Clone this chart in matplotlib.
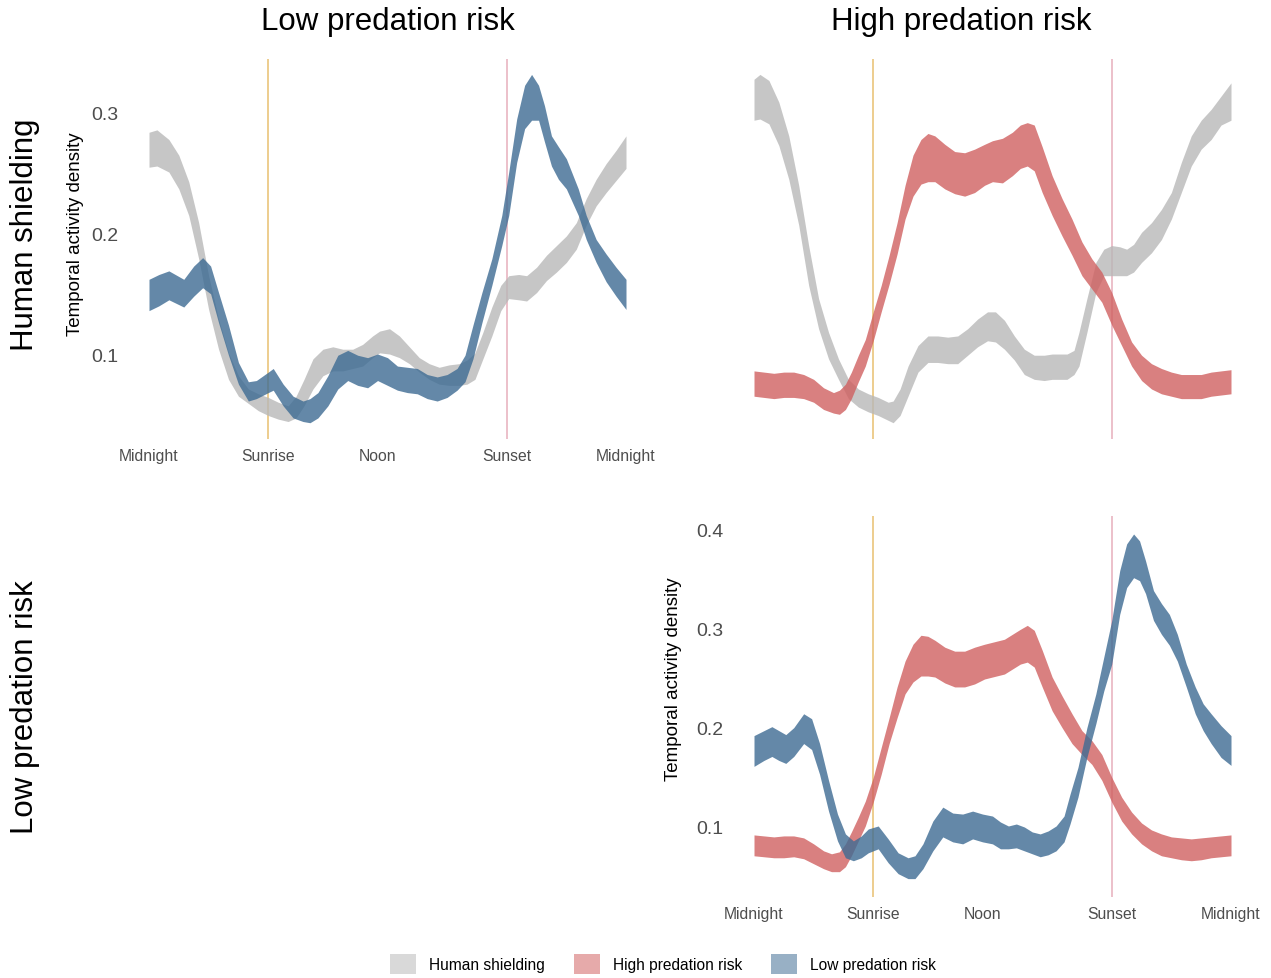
import matplotlib
matplotlib.use("Agg")
import matplotlib.pyplot as plt
from matplotlib.patches import Patch

plt.rcParams['font.family'] = ['Liberation Sans', 'DejaVu Sans']

# hour of day for each reading, upper / lower edge of each density band
tl_grey_h = [0, 0.4, 1.0, 1.5, 2.0, 2.5, 3.0, 3.5, 4.0, 4.5, 5.0, 5.5, 6.0, 6.5, 7.0, 7.4, 7.8, 8.25, 8.75, 9.25,
             9.75, 10.25, 10.75, 11.25, 11.6, 12.1, 12.6, 13.1, 13.6, 14.1, 14.6, 15.1, 15.6, 16.0, 16.4, 16.8,
             17.25, 17.7, 18.1, 18.6, 19.0, 19.5, 20.0, 20.5, 21.0, 21.5, 22.0, 22.5, 23.0, 23.5, 24]
tl_grey_hi = [0.284, 0.286, 0.278, 0.265, 0.243, 0.209, 0.165, 0.129, 0.101, 0.082, 0.071, 0.067, 0.064, 0.060,
              0.057, 0.065, 0.079, 0.096, 0.104, 0.106, 0.104, 0.104, 0.108, 0.115, 0.119, 0.121, 0.115, 0.106,
              0.097, 0.092, 0.089, 0.091, 0.092, 0.095, 0.101, 0.118, 0.139, 0.157, 0.165, 0.166, 0.165, 0.172,
              0.182, 0.190, 0.198, 0.209, 0.229, 0.245, 0.258, 0.269, 0.281]
tl_grey_lo = [0.255, 0.256, 0.251, 0.237, 0.215, 0.179, 0.137, 0.104, 0.079, 0.065, 0.059, 0.053, 0.049, 0.046,
              0.044, 0.047, 0.057, 0.071, 0.082, 0.086, 0.086, 0.088, 0.090, 0.097, 0.101, 0.100, 0.097, 0.092,
              0.085, 0.079, 0.075, 0.074, 0.074, 0.075, 0.079, 0.096, 0.115, 0.136, 0.146, 0.145, 0.144, 0.151,
              0.161, 0.168, 0.176, 0.187, 0.207, 0.223, 0.234, 0.244, 0.254]

tl_blue_h = [0, 0.5, 1.0, 1.75, 2.25, 2.7, 3.1, 3.5, 4.0, 4.5, 5.0, 5.4, 6.0, 6.25, 6.75, 7.25, 7.75, 8.1, 8.5, 9.0,
             9.5, 10.0, 10.5, 11.0, 11.5, 12.0, 12.5, 13.0, 13.5, 14.0, 14.5, 15.0, 15.5, 15.9, 16.3, 16.75,
             17.25, 17.75, 18.1, 18.5, 18.9, 19.25, 19.6, 19.9, 20.25, 20.6, 21.0, 21.6, 22.0, 22.5, 23.0, 23.5, 24]
tl_blue_hi = [0.162, 0.166, 0.169, 0.162, 0.173, 0.180, 0.173, 0.151, 0.124, 0.093, 0.077, 0.078, 0.085, 0.088,
              0.075, 0.065, 0.061, 0.063, 0.068, 0.082, 0.099, 0.103, 0.099, 0.097, 0.100, 0.097, 0.090, 0.089,
              0.088, 0.083, 0.081, 0.083, 0.088, 0.099, 0.124, 0.151, 0.179, 0.215, 0.251, 0.295, 0.323, 0.332,
              0.323, 0.306, 0.281, 0.272, 0.262, 0.237, 0.215, 0.195, 0.183, 0.172, 0.162]
tl_blue_lo = [0.136, 0.140, 0.145, 0.139, 0.148, 0.155, 0.150, 0.126, 0.099, 0.075, 0.061, 0.063, 0.068, 0.070,
              0.057, 0.047, 0.044, 0.043, 0.047, 0.057, 0.071, 0.078, 0.074, 0.072, 0.078, 0.074, 0.070, 0.068,
              0.067, 0.063, 0.061, 0.064, 0.070, 0.077, 0.096, 0.126, 0.157, 0.190, 0.215, 0.259, 0.287, 0.294,
              0.294, 0.276, 0.256, 0.245, 0.237, 0.215, 0.195, 0.176, 0.160, 0.148, 0.137]

tr_grey_h = [0, 0.3, 0.75, 1.25, 1.75, 2.25, 2.75, 3.25, 3.75, 4.25, 4.75, 5.25, 5.75, 6.25, 6.75, 7.0, 7.35, 7.75,
             8.25, 8.75, 9.25, 9.75, 10.25, 10.75, 11.25, 11.75, 12.15, 12.6, 13.1, 13.6, 14.1, 14.6, 15.0, 15.4,
             15.75, 16.1, 16.35, 16.75, 17.2, 17.6, 18.0, 18.4, 18.75, 19.1, 19.5, 20.0, 20.5, 21.0, 21.5, 22.0,
             22.5, 23.0, 23.5, 24]
tr_grey_hi = [0.328, 0.332, 0.327, 0.309, 0.281, 0.240, 0.190, 0.146, 0.118, 0.096, 0.079, 0.071, 0.067, 0.064,
              0.060, 0.061, 0.071, 0.090, 0.107, 0.115, 0.115, 0.114, 0.115, 0.121, 0.129, 0.135, 0.135, 0.128,
              0.115, 0.104, 0.099, 0.099, 0.100, 0.100, 0.100, 0.103, 0.118, 0.146, 0.176, 0.187, 0.190, 0.189,
              0.187, 0.191, 0.201, 0.209, 0.220, 0.234, 0.259, 0.281, 0.294, 0.303, 0.314, 0.325]
tr_grey_lo = [0.294, 0.295, 0.291, 0.273, 0.245, 0.207, 0.157, 0.121, 0.096, 0.079, 0.063, 0.056, 0.052, 0.049,
              0.045, 0.043, 0.049, 0.065, 0.085, 0.093, 0.093, 0.092, 0.092, 0.099, 0.106, 0.111, 0.110, 0.104,
              0.095, 0.083, 0.079, 0.078, 0.079, 0.079, 0.079, 0.083, 0.090, 0.118, 0.151, 0.165, 0.165, 0.165,
              0.165, 0.168, 0.176, 0.184, 0.195, 0.212, 0.234, 0.256, 0.270, 0.278, 0.290, 0.294]

tr_red_h = [0, 0.5, 1.0, 1.5, 2.0, 2.5, 3.0, 3.5, 4.0, 4.3, 4.6, 4.9, 5.25, 5.6, 6.0, 6.4, 6.8, 7.2, 7.6, 8.0, 8.4,
            8.75, 9.1, 9.6, 10.1, 10.6, 11.1, 11.6, 12.0, 12.5, 13.0, 13.4, 13.75, 14.1, 14.5, 15.0, 15.5, 16.0,
            16.5, 17.0, 17.5, 18.0, 18.5, 19.0, 19.5, 20.0, 20.5, 21.0, 21.5, 22.0, 22.5, 23.0, 23.5, 24]
tr_red_hi = [0.086, 0.085, 0.084, 0.085, 0.085, 0.083, 0.079, 0.072, 0.068, 0.070, 0.075, 0.085, 0.099, 0.112,
             0.135, 0.157, 0.182, 0.209, 0.240, 0.265, 0.278, 0.283, 0.281, 0.274, 0.268, 0.267, 0.270, 0.274,
             0.277, 0.279, 0.284, 0.290, 0.292, 0.290, 0.272, 0.248, 0.229, 0.212, 0.193, 0.179, 0.168, 0.151,
             0.129, 0.110, 0.099, 0.092, 0.088, 0.085, 0.083, 0.083, 0.083, 0.085, 0.086, 0.087]
tr_red_lo = [0.065, 0.064, 0.063, 0.064, 0.064, 0.063, 0.060, 0.054, 0.051, 0.050, 0.054, 0.063, 0.077, 0.090,
             0.111, 0.135, 0.158, 0.183, 0.212, 0.231, 0.241, 0.243, 0.243, 0.237, 0.233, 0.231, 0.234, 0.240,
             0.243, 0.242, 0.248, 0.254, 0.256, 0.252, 0.234, 0.215, 0.198, 0.182, 0.165, 0.154, 0.143, 0.124,
             0.107, 0.090, 0.078, 0.071, 0.067, 0.065, 0.063, 0.063, 0.063, 0.065, 0.066, 0.067]

br_blue_h = [0, 0.5, 0.9, 1.25, 1.6, 2.0, 2.5, 2.9, 3.3, 3.75, 4.2, 4.6, 5.0, 5.4, 5.75, 6.25, 6.75, 7.25, 7.75,
             8.1, 8.5, 9.0, 9.5, 10.0, 10.5, 11.0, 11.5, 12.0, 12.4, 12.8, 13.2, 13.6, 14.0, 14.4, 14.8, 15.2,
             15.6, 15.9, 16.3, 16.75, 17.2, 17.6, 18.0, 18.4, 18.75, 19.1, 19.4, 19.7, 20.1, 20.5, 20.9, 21.3,
             21.75, 22.2, 22.6, 23.0, 23.5, 24]
br_blue_hi = [0.192, 0.197, 0.201, 0.197, 0.193, 0.200, 0.214, 0.209, 0.184, 0.147, 0.113, 0.093, 0.086, 0.091,
              0.098, 0.101, 0.088, 0.074, 0.069, 0.071, 0.083, 0.106, 0.120, 0.114, 0.113, 0.116, 0.113, 0.111,
              0.105, 0.101, 0.103, 0.100, 0.095, 0.093, 0.096, 0.101, 0.111, 0.133, 0.160, 0.200, 0.234, 0.271,
              0.308, 0.358, 0.385, 0.395, 0.388, 0.368, 0.338, 0.325, 0.314, 0.294, 0.264, 0.241, 0.224, 0.214,
              0.202, 0.192]
br_blue_lo = [0.161, 0.167, 0.171, 0.167, 0.164, 0.171, 0.184, 0.178, 0.153, 0.116, 0.086, 0.069, 0.066, 0.069,
              0.074, 0.078, 0.064, 0.053, 0.048, 0.048, 0.058, 0.076, 0.090, 0.085, 0.083, 0.088, 0.085, 0.083,
              0.078, 0.078, 0.079, 0.076, 0.073, 0.070, 0.072, 0.076, 0.085, 0.103, 0.130, 0.170, 0.204, 0.237,
              0.264, 0.314, 0.341, 0.351, 0.348, 0.335, 0.308, 0.294, 0.283, 0.267, 0.241, 0.214, 0.197, 0.184,
              0.170, 0.162]

br_red_h = [0, 0.5, 1.0, 1.5, 2.0, 2.5, 3.0, 3.5, 3.9, 4.3, 4.6, 4.9, 5.25, 5.6, 6.0, 6.4, 6.8, 7.2, 7.6, 8.0, 8.4,
            8.75, 9.1, 9.6, 10.1, 10.6, 11.1, 11.6, 12.0, 12.6, 13.0, 13.4, 13.75, 14.1, 14.5, 15.0, 15.5, 16.0,
            16.5, 17.0, 17.5, 18.0, 18.5, 19.0, 19.5, 20.0, 20.5, 21.0, 21.5, 22.0, 22.5, 23.0, 23.5, 24]
br_red_hi = [0.092, 0.091, 0.090, 0.091, 0.091, 0.089, 0.083, 0.076, 0.073, 0.075, 0.083, 0.095, 0.110, 0.126,
             0.150, 0.180, 0.210, 0.241, 0.267, 0.284, 0.293, 0.292, 0.288, 0.281, 0.277, 0.277, 0.281, 0.284,
             0.286, 0.289, 0.294, 0.299, 0.303, 0.298, 0.278, 0.251, 0.232, 0.214, 0.197, 0.187, 0.173, 0.150,
             0.130, 0.115, 0.104, 0.097, 0.093, 0.090, 0.089, 0.088, 0.089, 0.090, 0.091, 0.092]
br_red_lo = [0.071, 0.070, 0.069, 0.069, 0.070, 0.068, 0.063, 0.058, 0.055, 0.055, 0.060, 0.071, 0.086, 0.101,
             0.125, 0.153, 0.184, 0.210, 0.234, 0.246, 0.252, 0.252, 0.251, 0.245, 0.241, 0.241, 0.244, 0.249,
             0.251, 0.254, 0.259, 0.264, 0.266, 0.261, 0.241, 0.217, 0.200, 0.184, 0.173, 0.163, 0.147, 0.125,
             0.106, 0.093, 0.083, 0.076, 0.071, 0.069, 0.067, 0.066, 0.067, 0.069, 0.070, 0.071]

tick_pos = [0, 6.0, 11.52, 18.0, 24]
tick_labels = ['Midnight', 'Sunrise', 'Noon', 'Sunset', 'Midnight']
sunrise, sunset = 6.0, 18.0

series_names = ['Human shielding', 'High predation risk', 'Low predation risk']
series_colors = ['#b8b8b8', '#d06060', '#3d6b93']
GREY, RED, BLUE = series_colors

W, H = 1271, 979
fig = plt.figure(figsize=(W / 100, H / 100), dpi=100)


def band(ax, h, lo, hi, color):
    ax.fill_between(h, lo, hi, color=color, alpha=0.8, linewidth=0)


def setup(ax, ylim, yticks, xlabels=True, ylabels=True):
    ax.set_xlim(0, 24)
    ax.set_ylim(*ylim)
    ax.axvline(sunrise, color='#edcd8e', lw=1.4, zorder=0)
    ax.axvline(sunset, color='#ecc0ca', lw=1.4, zorder=0)
    for s in ax.spines.values():
        s.set_visible(False)
    ax.set_xticks(tick_pos)
    ax.set_xticklabels(tick_labels if xlabels else [])
    ax.set_yticks(yticks if ylabels else [])
    ax.tick_params(axis='x', length=0, pad=6.5, labelsize=11.3, labelcolor='#4d4d4d')
    ax.tick_params(axis='y', length=0, pad=22, labelsize=14, labelcolor='#4d4d4d')


top_ylim = (0.0295, 0.3448)
bot_ylim = (0.0295, 0.4131)

ax_tl = fig.add_axes([149 / W, 1 - 440 / H, 477 / W, 380 / H])
setup(ax_tl, top_ylim, [0.1, 0.2, 0.3])
band(ax_tl, tl_grey_h, tl_grey_lo, tl_grey_hi, GREY)
band(ax_tl, tl_blue_h, tl_blue_lo, tl_blue_hi, BLUE)

ax_tr = fig.add_axes([754 / W, 1 - 440 / H, 477 / W, 380 / H])
setup(ax_tr, top_ylim, [], xlabels=False, ylabels=False)
band(ax_tr, tr_grey_h, tr_grey_lo, tr_grey_hi, GREY)
band(ax_tr, tr_red_h, tr_red_lo, tr_red_hi, RED)

ax_br = fig.add_axes([754 / W, 1 - 898 / H, 477 / W, 381 / H])
setup(ax_br, bot_ylim, [0.1, 0.2, 0.3, 0.4])
band(ax_br, br_red_h, br_red_lo, br_red_hi, RED)
band(ax_br, br_blue_h, br_blue_lo, br_blue_hi, BLUE)

# y labels, facet titles
fig.text(75 / W, 1 - 234 / H, 'Temporal activity density', rotation=90, ha='center', va='center', fontsize=13.5)
fig.text(673 / W, 1 - 679 / H, 'Temporal activity density', rotation=90, ha='center', va='center', fontsize=13.5)
fig.text(388 / W, 1 - 22 / H, 'Low predation risk', ha='center', va='center', fontsize=22.5)
fig.text(961 / W, 1 - 22 / H, 'High predation risk', ha='center', va='center', fontsize=22.5)
fig.text(25 / W, 1 - 235 / H, 'Human shielding', rotation=90, ha='center', va='center', fontsize=22.5)
fig.text(25 / W, 1 - 707 / H, 'Low predation risk', rotation=90, ha='center', va='center', fontsize=22.5)

handles = [Patch(facecolor=c, alpha=0.53, edgecolor='none') for c in series_colors]
fig.legend(handles, series_names, loc='center', bbox_to_anchor=(663 / W, 1 - 965 / H), ncol=3, frameon=False,
           fontsize=11.2, handlelength=1.67, handleheight=1.67, handletextpad=0.8, columnspacing=1.9)

fig.savefig('out.png', dpi=100)
